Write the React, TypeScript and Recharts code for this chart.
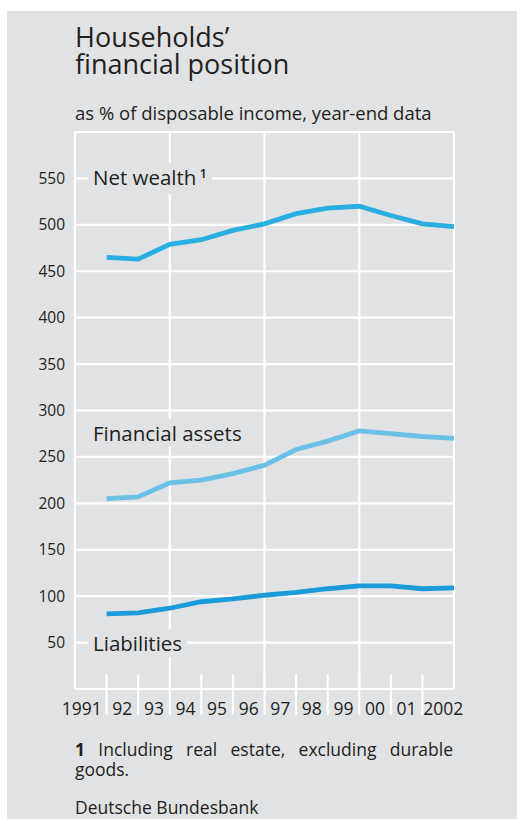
import React from 'react';
import { LineChart, Line, XAxis, YAxis, CartesianGrid, ReferenceLine } from 'recharts';

const years = ['1991', '92', '93', '94', '95', '96', '97', '98', '99', '00', '01', '2002'];
const netWealth = [465, 463, 479, 484, 494, 501, 512, 518, 520, 510, 501, 498];
const financialAssets = [205, 207, 222, 225, 232, 241, 258, 267, 278, 275, 272, 270];
const liabilities = [81, 82, 87, 94, 97, 101, 104, 108, 111, 111, 108, 109];
const yTicks = [0, 50, 100, 150, 200, 250, 300, 350, 400, 450, 500, 550, 600];
const gridXTicks = [0, 3, 6, 9, 12];
const boundaryTicks = [1, 2, 3, 4, 5, 6, 7, 8, 9, 10, 11];
const labelTicks = years.map((_, i) => i + 0.5);

const data = years.map((y, i) => ({
  pos: i + 1,
  year: y,
  net: netWealth[i],
  fin: financialAssets[i],
  liab: liabilities[i],
}));

const FONT = '"Open Sans", "DejaVu Sans", sans-serif';
const TEXT = '#231f20';
const BG = '#e1e2e4';

const XTick = (props: any) => {
  const { x, y, payload } = props;
  const idx = Math.round(payload.value - 0.5);
  const label = years[idx];
  let anchor: 'middle' | 'start' | 'end' = 'middle';
  let dx = 0;
  if (idx === 0) {
    anchor = 'end';
    dx = 11;
  } else if (idx === years.length - 1) {
    anchor = 'start';
    dx = -15;
  }
  return (
    <text x={x + dx} y={y} dy="0.71em" textAnchor={anchor} fontSize={17.5} fill={TEXT} fontFamily={FONT}>
      {label}
    </text>
  );
};

const labelStyle: React.CSSProperties = {
  position: 'absolute',
  left: 88,
  padding: '0 5px',
  fontSize: 20.5,
  lineHeight: '28px',
  background: BG,
  color: TEXT,
  whiteSpace: 'nowrap',
};

export default function App() {
  return (
    <div style={{ position: 'absolute', left: 0, top: 0, width: 517, height: 819, background: '#fff', overflow: 'hidden', fontFamily: FONT }}>
      <div style={{ position: 'absolute', left: 7, top: 11, width: 510, height: 808, background: BG }} />
      <div style={{ position: 'absolute', left: 0, top: 0 }}>
        <LineChart width={517} height={819} data={data} margin={{ top: 132, right: 63, bottom: 90, left: 15 }}>
          <XAxis xAxisId="grid" type="number" dataKey="pos" domain={[0, 12]} ticks={gridXTicks} hide />
          <CartesianGrid xAxisId="grid" stroke="#ffffff" strokeWidth={2.2} strokeOpacity={1} />
          <XAxis
            type="number"
            dataKey="pos"
            domain={[0, 12]}
            ticks={labelTicks}
            interval={0}
            height={40}
            axisLine={false}
            tickLine={false}
            tickSize={0}
            tickMargin={14}
            tick={<XTick />}
          />
          <YAxis
            type="number"
            domain={[0, 600]}
            ticks={yTicks}
            interval={0}
            width={60}
            axisLine={false}
            tickLine={false}
            tickSize={0}
            tickMargin={10}
            tickFormatter={(v: number) => (v === 0 || v === 600 ? '' : String(v))}
            tick={{ fontSize: 15.5, fill: TEXT, fontFamily: FONT }}
          />
          {boundaryTicks.map((t) => (
            <ReferenceLine
              key={t}
              segment={[{ x: t, y: 16 }, { x: t, y: -28 }]}
              stroke="#ffffff"
              strokeWidth={2}
              ifOverflow="visible"
            />
          ))}
          <Line type="linear" dataKey="net" stroke="#2aaee0" strokeWidth={4.8} dot={false} activeDot={false} isAnimationActive={false} />
          <Line type="linear" dataKey="fin" stroke="#6cc0e5" strokeWidth={4.8} dot={false} activeDot={false} isAnimationActive={false} />
          <Line type="linear" dataKey="liab" stroke="#1b9bd7" strokeWidth={4.8} dot={false} activeDot={false} isAnimationActive={false} />
        </LineChart>
      </div>

      <div style={{ position: 'absolute', left: 75, top: 23, fontSize: 27, lineHeight: '27px', color: TEXT, whiteSpace: 'nowrap' }}>
        Households’
        <br />
        financial position
      </div>
      <div style={{ position: 'absolute', left: 75, top: 104.3, fontSize: 18.5, lineHeight: '18.5px', color: TEXT, whiteSpace: 'nowrap' }}>
        as % of disposable income, year-end data
      </div>

      <div style={{ ...labelStyle, top: 163 }}>
        Net wealth<span style={{ fontSize: 13, fontWeight: 600, position: 'relative', top: -7, marginLeft: 3 }}>1</span>
      </div>
      <div style={{ ...labelStyle, top: 419 }}>Financial assets</div>
      <div style={{ ...labelStyle, top: 629 }}>Liabilities</div>

      <div style={{ position: 'absolute', left: 75, top: 739.4, width: 378, fontSize: 17.5, lineHeight: '20px', color: TEXT, textAlign: 'justify' }}>
        <b>1</b> Including real estate, excluding durable goods.
      </div>
      <div style={{ position: 'absolute', left: 75, top: 797.4, fontSize: 17.5, lineHeight: '20px', color: TEXT, whiteSpace: 'nowrap' }}>
        Deutsche Bundesbank
      </div>
    </div>
  );
}
